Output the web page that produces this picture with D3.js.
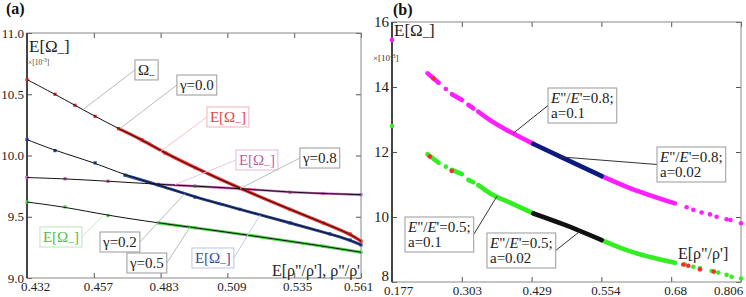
<!DOCTYPE html>
<html>
<head>
<meta charset="utf-8">
<script src="https://cdn.jsdelivr.net/npm/d3@7"></script>
<style>
  body { margin: 0; background: #fff; }
  svg { display: block; }
  svg text { font-family: "Liberation Serif", "Times New Roman", Times, "DejaVu Serif", serif; }
</style>
</head>
<body>
<svg width="746" height="297"></svg>
<script>
// ---- panel (a) ticks
const xTicksA = [0.432, 0.4578, 0.4836, 0.5094, 0.5352, 0.561];
const xLabelsA = ["0.432", "0.457", "0.483", "0.509", "0.535", "0.561"];
const yTicksA = [9.0, 9.5, 10.0, 10.5, 11.0];

// panel (a) series: [E[rho''/rho'], E[Omega-]] x1e-3
const gamma00 = [[0.432, 10.62], [0.4428, 10.50], [0.4505, 10.41], [0.4583, 10.32], [0.4673, 10.22], [0.4763, 10.13],
  [0.4853, 10.02], [0.4969, 9.90], [0.5143, 9.73], [0.5336, 9.56], [0.5464, 9.45], [0.5568, 9.36], [0.561, 9.30]];
const gamma02 = [[0.432, 10.13], [0.4428, 10.04], [0.4583, 9.94], [0.4698, 9.84], [0.4827, 9.76], [0.4969, 9.66],
  [0.5143, 9.56], [0.5336, 9.45], [0.549, 9.36], [0.5568, 9.31], [0.561, 9.27]];
const gamma08 = [[0.432, 9.82], [0.4467, 9.81], [0.4633, 9.79], [0.4827, 9.765], [0.4969, 9.75], [0.5143, 9.73],
  [0.5336, 9.70], [0.5464, 9.69], [0.561, 9.68]];
const gamma05 = [[0.432, 9.62], [0.4467, 9.58], [0.4633, 9.51], [0.4827, 9.45], [0.4969, 9.41], [0.5207, 9.34],
  [0.5464, 9.26], [0.561, 9.21]];

// ---- panel (b) ticks
const xTicksB = [0.177, 0.3028, 0.4286, 0.5544, 0.6802, 0.806];
const xLabelsB = ["0.177", "0.303", "0.429", "0.554", "0.68", "0.806"];
const yTicksB = [8, 10, 12, 14, 16];

// panel (b): dense runs (several points) and single dots
const ratio08a01 = [
  [[0.241, 14.42], [0.261, 14.13]],
  [[0.274, 13.94]],
  [[0.285, 13.78], [0.303, 13.60]],
  [[0.3146, 13.45], [0.3236, 13.34]],
  [[0.3326, 13.24], [0.3536, 12.98], [0.3897, 12.62], [0.4317, 12.25]],
  [[0.5549, 11.26], [0.600, 10.93], [0.687, 10.42]],
  [[0.177, 15.45]], [[0.708, 10.30]], [[0.720, 10.22]], [[0.735, 10.14]], [[0.750, 10.08]],
  [[0.762, 10.01]], [[0.780, 9.93]], [[0.787, 9.91]], [[0.806, 9.81]]
];
const ratio08a002 = [[[0.4317, 12.25], [0.485, 11.82], [0.5549, 11.26]]];
const ratio05a01 = [
  [[0.241, 11.93], [0.261, 11.67]],
  [[0.274, 11.55]],
  [[0.285, 11.45], [0.303, 11.32]],
  [[0.3146, 11.14], [0.3236, 11.07]],
  [[0.3326, 10.98], [0.3536, 10.73], [0.3897, 10.44], [0.4317, 10.11]],
  [[0.5549, 9.29], [0.600, 8.98], [0.687, 8.59]],
  [[0.177, 12.8]], [[0.705, 8.54]], [[0.720, 8.47]], [[0.732, 8.42]], [[0.753, 8.34]],
  [[0.765, 8.29]], [[0.780, 8.22]], [[0.789, 8.16]], [[0.806, 8.11]]
];
const ratio05a002 = [[[0.4317, 10.11], [0.485, 9.78], [0.5549, 9.29]]];
const outliers = [[[0.2516, 14.27]], [[0.245, 11.86]], [[0.2845, 11.42]], [[0.702, 8.54]], [[0.711, 8.50]], [[0.732, 8.39]], [[0.757, 8.32]]];

const svg = d3.select("svg");

const xa = d3.scaleLinear().domain([0.432, 0.561]).range([27, 361]);
const ya = d3.scaleLinear().domain([9, 11]).range([278, 33]);
const xb = d3.scaleLinear().domain([0.177, 0.806]).range([392, 741]);
const yb = d3.scaleLinear().domain([8, 16]).range([282, 22]);

function styleAxis(s, size) {
  s.attr("font-family", null).attr("font-size", size);
  s.select(".domain").remove();
  s.selectAll("line").attr("stroke", "#555");
  s.selectAll("text").attr("fill", "#222");
}

function drawFrame(g, x, y, o) {
  const [l, r] = x.range();
  const [b, t] = y.range();
  g.append("g")
    .attr("transform", `translate(0,${b})`)
    .call(d3.axisBottom(x).tickValues(o.xTicks).tickFormat((d, i) => o.xLabels[i]).tickSize(-5).tickPadding(4))
    .call(styleAxis, 13)
    .selectAll("text")
    .attr("dx", (d, i) => o.xShift[i]);
  g.append("g")
    .attr("transform", `translate(0,${t})`)
    .call(d3.axisTop(x).tickValues(o.xTicks).tickFormat("").tickSize(-5))
    .call(styleAxis, 13);
  g.append("g")
    .attr("transform", `translate(${l},0)`)
    .call(d3.axisLeft(y).tickValues(o.yTicks).tickFormat(o.yFormat).tickSize(-5).tickPadding(3))
    .call(styleAxis, o.ySize)
    .selectAll("text")
    .attr("dy", (d, i) => (i === 0 ? o.yFirstDy : "0.32em"));
  g.append("g")
    .attr("transform", `translate(${r},0)`)
    .call(d3.axisRight(y).tickValues(o.yTicks).tickFormat("").tickSize(-5))
    .call(styleAxis, 13);
  g.append("rect")
    .attr("x", l).attr("y", t).attr("width", r - l).attr("height", b - t)
    .attr("fill", "none").attr("stroke", "#888").attr("stroke-width", 1);
  g.append("line")
    .attr("x1", l).attr("x2", l).attr("y1", t).attr("y2", b)
    .attr("stroke", "#444").attr("stroke-width", 2);
}

// E[Ω–] style text
function omega(t, withE) {
  const s = parseFloat(t.attr("font-size"));
  t.append("tspan").text(withE ? "E[Ω" : "Ω");
  t.append("tspan").attr("dy", s * 0.22).attr("font-size", s * 0.75).text("–");
  t.append("tspan").attr("dy", -s * 0.22).text(withE ? "]" : "");
}

function ratio(v, a) {
  return [
    (t) => {
      t.append("tspan").attr("font-style", "italic").text("E");
      t.append("tspan").text('"/');
      t.append("tspan").attr("font-style", "italic").text("E");
      t.append("tspan").text("'=" + v + ";");
    },
    (t) => t.text("a=" + a)
  ];
}

function annotate(g, x, y, a) {
  const bx = x(a.box[0]), by = y(a.box[1]);
  const lead = g.append("line");
  const b = g.append("g");
  a.lines.forEach((fill, i) => {
    const t = b.append("text")
      .attr("x", bx + 3).attr("y", by + 15 + i * 15)
      .attr("font-size", 15).attr("fill", a.color || "#222");
    fill(t);
  });
  const bb = b.node().getBBox();
  const w = bb.x + bb.width + 3 - bx;
  const h = 15 * a.lines.length + 5;
  b.insert("rect", "text")
    .attr("x", bx).attr("y", by).attr("width", w).attr("height", h)
    .attr("fill", "#fff").attr("stroke", a.border || "#999").attr("stroke-width", 1);
  lead
    .attr("x1", a.side === "left" ? bx : bx + w).attr("y1", by + h / 2)
    .attr("x2", x(a.to[0])).attr("y2", y(a.to[1]))
    .attr("stroke", a.lead || "#bbb").attr("stroke-width", 1);
}

// ---------- panel (a)
const ga = svg.append("g");
drawFrame(ga, xa, ya, {
  xTicks: xTicksA, xLabels: xLabelsA, xShift: [8, 4, 3, 4, 3, -3],
  yTicks: yTicksA, yFormat: d3.format(".1f"), ySize: 13, yFirstDy: "0.32em"
});

const seriesA = [
  { pts: gamma05, color: "#4fd24a", band: 3 },
  { pts: gamma08, color: "#c462b6", band: 2.4 },
  { pts: gamma02, color: "#2a48a0", band: 3 },
  { pts: gamma00, color: "#f22a2a", band: 3.2 }
];
const lineA = d3.line().x((d) => xa(d[0])).y((d) => ya(d[1])).curve(d3.curveBasis);

seriesA.forEach((s) => {
  ga.append("path")
    .attr("d", lineA(s.pts.filter((d) => d[0] >= 0.465)))
    .attr("fill", "none").attr("stroke", s.color).attr("stroke-width", s.band);
  ga.append("g").selectAll("rect").data(s.pts).join("rect")
    .attr("x", (d) => xa(d[0]) - 1.6).attr("y", (d) => ya(d[1]) - 1.6)
    .attr("width", 3.2).attr("height", 3.2).attr("fill", s.color);
});
seriesA.forEach((s) => {
  ga.append("path")
    .attr("d", lineA(s.pts))
    .attr("fill", "none").attr("stroke", "#111").attr("stroke-width", 1);
});

const notesA = [
  { box: [0.4737, 10.78], to: [0.4536, 10.375], side: "left", lines: [(t) => omega(t, false)] },
  { box: [0.4899, 10.657], to: [0.4679, 10.22], side: "left", lines: [(t) => t.text("γ=0.0")] },
  { box: [0.5015, 10.396], to: [0.4834, 10.03], side: "left", lines: [(t) => omega(t, true)],
    color: "#e04646", border: "#f2b4b4", lead: "#f4c4c4" },
  { box: [0.5127, 10.045], to: [0.4892, 9.763], side: "left", lines: [(t) => omega(t, true)],
    color: "#b862ac", border: "#e2bade", lead: "#e8c8e4" },
  { box: [0.5374, 10.061], to: [0.5143, 9.73], side: "left", lines: [(t) => t.text("γ=0.8")] },
  { box: [0.4957, 9.245], to: [0.522, 9.514], side: "right", lines: [(t) => omega(t, true)],
    color: "#2f4ea0", border: "#b8c4e2", lead: "#c4cce8" },
  { box: [0.4602, 9.3755], to: [0.493, 9.69], side: "right", lines: [(t) => t.text("γ=0.2")] },
  { box: [0.4706, 9.204], to: [0.495, 9.416], side: "right", lines: [(t) => t.text("γ=0.5")] },
  { box: [0.437, 9.416], to: [0.4614, 9.51], side: "right", lines: [(t) => omega(t, true)],
    color: "#4cc04a", border: "#bce6b8", lead: "#c8ecc4" }
];
notesA.forEach((a) => annotate(ga, xa, ya, a));

ga.append("text").attr("x", 6).attr("y", 14)
  .attr("font-size", 16).attr("font-weight", "bold").attr("fill", "#111").text("(a)");
ga.append("text").attr("x", 29).attr("y", 52).attr("font-size", 17).attr("fill", "#222")
  .call((t) => omega(t, true));
ga.append("text").attr("x", 28).attr("y", 65).attr("font-size", 7.5).attr("fill", "#444")
  .call((t) => {
    t.append("tspan").text("×[10");
    t.append("tspan").attr("dy", -3).attr("font-size", 5.5).text("-3");
    t.append("tspan").attr("dy", 3).text("]");
  });
ga.append("text").attr("x", 360).attr("y", 276).attr("text-anchor", "end")
  .attr("font-size", 16).attr("fill", "#222").text("E[ρ\"/ρ'], ρ\"/ρ'");

// ---------- panel (b)
const gb = svg.append("g");
drawFrame(gb, xb, yb, {
  xTicks: xTicksB, xLabels: xLabelsB, xShift: [6, 5, 5, 4, 4, -13],
  yTicks: yTicksB, yFormat: d3.format("d"), ySize: 15, yFirstDy: "-0.1em"
});

const lineB = d3.line().x((d) => xb(d[0])).y((d) => yb(d[1])).curve(d3.curveMonotoneX);

function drawRuns(g, runs, color) {
  runs.forEach((run) => {
    if (run.length > 1) {
      g.append("path").attr("d", lineB(run))
        .attr("fill", "none").attr("stroke", color)
        .attr("stroke-width", 4.6).attr("stroke-linecap", "round");
    } else {
      g.append("circle").attr("cx", xb(run[0][0])).attr("cy", yb(run[0][1]))
        .attr("r", 2.3).attr("fill", color);
    }
  });
}

drawRuns(gb, ratio08a01, "#ff1eff");
drawRuns(gb, ratio08a002, "#0c1a80");
drawRuns(gb, ratio05a01, "#33ee22");
drawRuns(gb, ratio05a002, "#111");
drawRuns(gb, outliers, "#ff2a2a");

const notesB = [
  { box: [0.4582, 13.969], to: [0.3951, 12.57], side: "left", lines: ratio("0.8", "0.1"), lead: "#333" },
  { box: [0.6546, 12.154], to: [0.4798, 11.85], side: "left", lines: ratio("0.8", "0.02"), lead: "#333" },
  { box: [0.2004, 10.0], to: [0.3662, 10.64], side: "right", lines: ratio("0.5", "0.1"), lead: "#333" },
  { box: [0.3482, 9.508], to: [0.5158, 9.56], side: "right", lines: ratio("0.5", "0.02"), lead: "#333" }
];
notesB.forEach((a) => annotate(gb, xb, yb, a));

gb.append("text").attr("x", 393).attr("y", 15)
  .attr("font-size", 16).attr("font-weight", "bold").attr("fill", "#111").text("(b)");
gb.append("text").attr("x", 394).attr("y", 36).attr("font-size", 17).attr("fill", "#222")
  .call((t) => omega(t, true));
gb.append("text").attr("x", 373).attr("y", 61).attr("font-size", 9).attr("fill", "#333")
  .call((t) => {
    t.append("tspan").text("×[10");
    t.append("tspan").attr("dy", -3).attr("font-size", 6.5).text("-3");
    t.append("tspan").attr("dy", 3).text("]");
  });
gb.append("text").attr("x", 678).attr("y", 259)
  .attr("font-size", 16).attr("fill", "#222").text("E[ρ\"/ρ']");
</script>
</body>
</html>
